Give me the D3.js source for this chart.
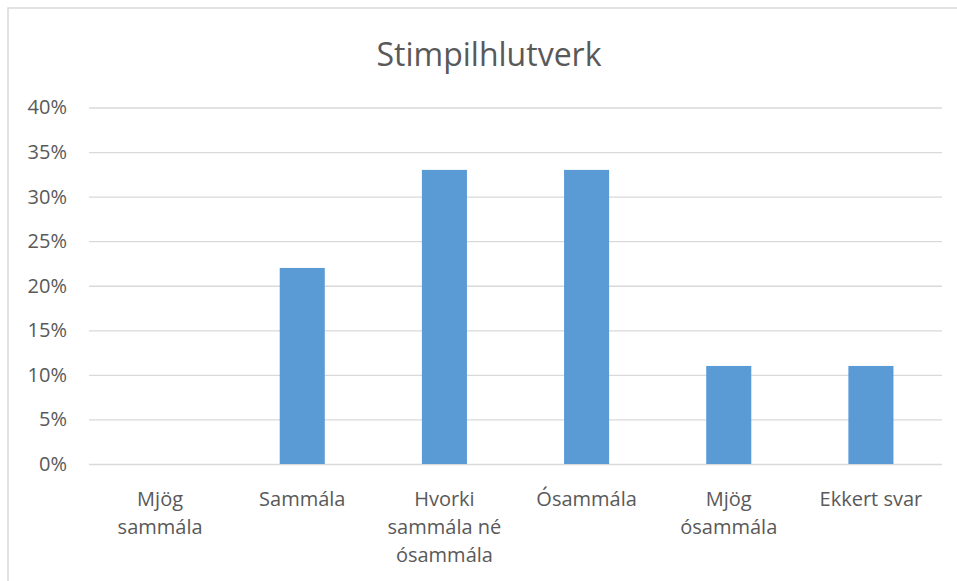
<!DOCTYPE html>
<html>
<head>
<meta charset="utf-8">
<script src="https://cdn.jsdelivr.net/npm/d3@7"></script>
<style>
  html, body { margin: 0; padding: 0; background: #fff; }
  svg { display: block; }
  text { font-family: "Open Sans", "Noto Sans", sans-serif; fill: #595959; }
</style>
</head>
<body>
<svg id="chart" width="957" height="581"></svg>
<script>
const title = "Stimpilhlutverk";
const categories = ["Mjög sammála", "Sammála", "Hvorki sammála né ósammála", "Ósammála", "Mjög ósammála", "Ekkert svar"];
const categoryLines = [["Mjög", "sammála"], ["Sammála"], ["Hvorki", "sammála né", "ósammála"], ["Ósammála"], ["Mjög", "ósammála"], ["Ekkert svar"]];
const values = [0, 0.22, 0.33, 0.33, 0.11, 0.11];
const yTicks = [0, 0.05, 0.10, 0.15, 0.20, 0.25, 0.30, 0.35, 0.40];

const svg = d3.select("#chart");
const W = 957, H = 581;
const plot = { left: 89, right: 942, top: 107.5, bottom: 464 };

// outer chart border (extends past right/bottom edges like reference)
svg.append("rect")
  .attr("x", 8).attr("y", 8)
  .attr("width", W + 20).attr("height", H + 20)
  .attr("fill", "#fff")
  .attr("stroke", "#d9d9d9").attr("stroke-width", 1.5);

svg.append("text")
  .attr("x", 489).attr("y", 66)
  .attr("text-anchor", "middle")
  .style("font-size", "32px")
  .text(title);

const x = d3.scaleBand().domain(categories).range([plot.left, plot.right]).paddingInner(0.683).paddingOuter(0.3415);
const y = d3.scaleLinear().domain([0, 0.40]).range([plot.bottom, plot.top]);

// grid
const yAxis = d3.axisLeft(y).tickValues(yTicks).tickFormat(d3.format(".0%"))
  .tickSize(-(plot.right - plot.left)).tickPadding(22);
const gy = svg.append("g").attr("transform", `translate(${plot.left},0)`).call(yAxis);
gy.select(".domain").remove();
gy.selectAll(".tick line").attr("stroke", "#d9d9d9").attr("stroke-width", 1.3);
gy.selectAll(".tick text").style("font-size", "20px").style("font-family", "'Open Sans', sans-serif").attr("fill", "#595959");

// bars
svg.append("g").selectAll("rect").data(values).join("rect")
  .attr("x", (d, i) => x(categories[i]))
  .attr("width", x.bandwidth())
  .attr("y", d => y(d))
  .attr("height", d => y(0) - y(d))
  .attr("fill", "#5b9bd5");

// x axis labels
const xAxis = d3.axisBottom(x).tickSize(0).tickPadding(0).tickFormat("");
const gx = svg.append("g").attr("transform", `translate(0,${plot.bottom})`).call(xAxis);
gx.select(".domain").remove();
gx.selectAll(".tick").each(function(d, i) {
  const t = d3.select(this).append("text")
    .attr("text-anchor", "middle")
    .style("font-size", "20px")
    .attr("fill", "#595959");
  categoryLines[i].forEach((line, j) => {
    t.append("tspan").attr("x", 0).attr("y", 42 + j * 28).text(line);
  });
});
</script>
</body>
</html>
